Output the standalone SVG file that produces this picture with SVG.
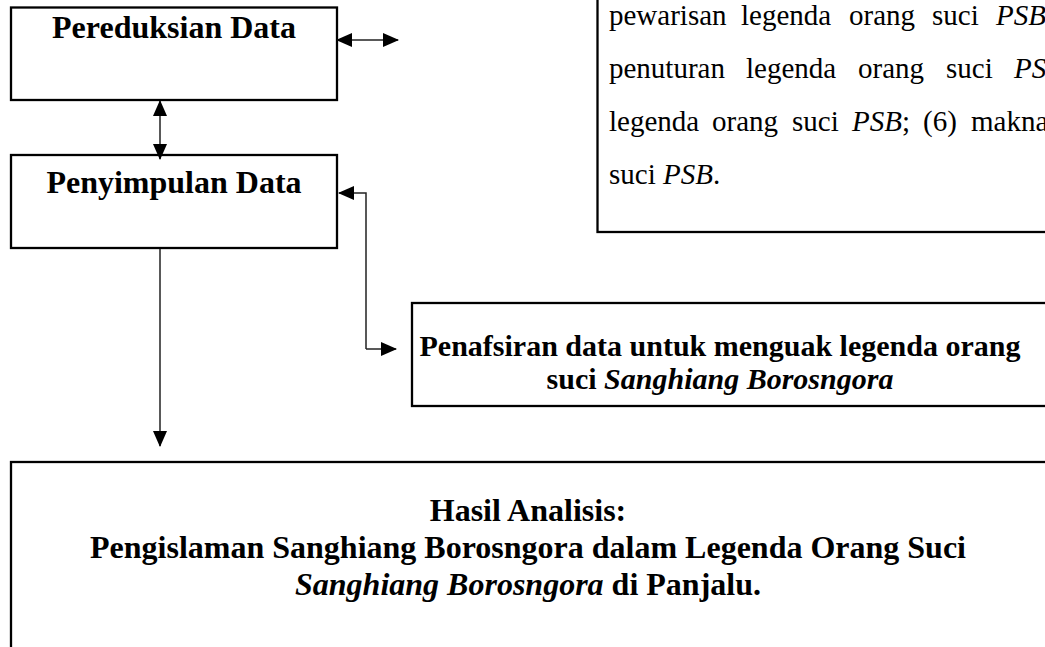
<svg xmlns="http://www.w3.org/2000/svg" width="1045" height="647" viewBox="0 0 1045 647">
<style>
.box{fill:#fff;stroke:#000;stroke-width:2.3}
.b{font-family:"Liberation Serif","Times New Roman",serif;font-weight:bold;fill:#000}
.r{font-family:"Liberation Serif","Times New Roman",serif;font-size:29px;fill:#000}
.i{font-style:italic}
.c{fill:none;stroke:#222;stroke-width:1.5}
</style>
<defs>
<marker id="ah" viewBox="0 0 16 14" refX="15" refY="7" markerWidth="16" markerHeight="14" markerUnits="userSpaceOnUse" orient="auto-start-reverse">
<path d="M0,0 L16,7 L0,14 Z" fill="#000"/>
</marker>
</defs>
<rect width="1045" height="647" fill="#fff"/>
<g id="node-pereduksian">
<rect class="box" x="11" y="7.5" width="326" height="92.5"/>
<text class="b" x="174" y="38" font-size="32" text-anchor="middle">Pereduksian Data</text>
</g>
<g id="node-penyimpulan">
<rect class="box" x="11" y="155" width="326" height="93"/>
<text class="b" x="174" y="193" font-size="32" text-anchor="middle">Penyimpulan Data</text>
</g>
<g id="node-keterangan">
<rect class="box" x="597.5" y="-50" width="500" height="282"/>
<text class="r" y="25"><tspan x="609">pewarisan</tspan><tspan x="741">legenda</tspan><tspan x="849">orang</tspan><tspan x="932">suci</tspan><tspan x="996" class="i">PSB</tspan></text>
<text class="r" y="78"><tspan x="609">penuturan</tspan><tspan x="746">legenda</tspan><tspan x="858">orang</tspan><tspan x="946">suci</tspan><tspan x="1014" class="i">PSB</tspan></text>
<text class="r" y="131"><tspan x="609">legenda</tspan><tspan x="712">orang</tspan><tspan x="792">suci</tspan><tspan x="852"><tspan class="i">PSB</tspan>;</tspan><tspan x="923">(6)</tspan><tspan x="971">makna</tspan></text>
<text class="r" x="609" y="184">suci <tspan class="i">PSB</tspan>.</text>
</g>
<g id="node-penafsiran">
<rect class="box" x="412" y="303" width="700" height="103"/>
<text class="b" x="720" y="356" font-size="30" text-anchor="middle">Penafsiran data untuk menguak legenda orang</text>
<text class="b" x="720" y="389" font-size="30" text-anchor="middle">suci <tspan class="i">Sanghiang Borosngora</tspan></text>
</g>
<g id="node-hasil">
<rect class="box" x="11" y="462" width="1100" height="250"/>
<text class="b" x="528" y="521" font-size="32" text-anchor="middle">Hasil Analisis:</text>
<text class="b" x="528" y="558" font-size="32" text-anchor="middle">Pengislaman Sanghiang Borosngora dalam Legenda Orang Suci</text>
<text class="b" x="528" y="595" font-size="32" text-anchor="middle"><tspan class="i">Sanghiang Borosngora</tspan> di Panjalu.</text>
</g>
<g id="connectors">
<path class="c" d="M337,40 L398,40" marker-start="url(#ah)" marker-end="url(#ah)"/>
<path class="c" d="M160,101 L160,159" marker-start="url(#ah)" marker-end="url(#ah)"/>
<path class="c" d="M366,349 L366,193 L339,193" marker-end="url(#ah)"/>
<path class="c" d="M366,349 L396,349" marker-end="url(#ah)"/>
<path class="c" d="M160,249 L160,446" marker-end="url(#ah)"/>
</g>
</svg>
